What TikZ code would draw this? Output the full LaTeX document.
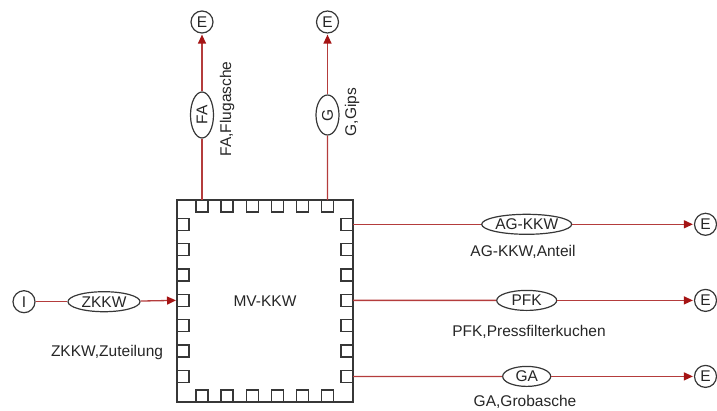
\documentclass[tikz,border=0pt]{standalone}
\usepackage{fontspec}
\setmainfont{Liberation Sans}
\usetikzlibrary{shapes.geometric,arrows.meta}
\definecolor{flow}{RGB}{180,60,60}
\definecolor{tipred}{RGB}{165,20,20}
\definecolor{frame}{RGB}{55,55,55}
\begin{document}
\begin{tikzpicture}[x=1pt, y=-1pt,
	every node/.style={font=\fontsize{15.5}{18}\selectfont, text=black!85},
	term/.style={circle, draw=frame, line width=1.2pt, minimum size=22pt, inner sep=0pt},
	stream/.style={ellipse, draw=frame, line width=1.2pt, minimum height=20pt, inner sep=0pt},
	port/.style={rectangle, draw=frame, line width=1.4pt, minimum size=12pt, inner sep=0pt, outer sep=0pt},
	flowline/.style={draw=flow, line width=1.3pt},
	flowarrow/.style={flowline, -{Triangle[length=9pt, width=8pt, color=tipred]}, shorten >=1pt}]
			\useasboundingbox (0,0) rectangle (717,410);
			
			% Prozess
			\node[draw=frame, line width=1.5pt, minimum width=176pt, minimum height=202pt, inner sep=0pt, outer sep=0pt] (mv) at (265,301) {MV-KKW};
			\foreach \i in {1,...,6} {
				\node[port, anchor=north] (t\i) at ({202+25.1*(\i-1)},200) {};
				\node[port, anchor=south] (b\i) at ({202+25.1*(\i-1)},402) {};
			}
			\foreach \i in {1,...,7} {
				\node[port, anchor=west] (l\i) at (177,{224.3+25.35*(\i-1)}) {};
				\node[port, anchor=east] (r\i) at (353,{224.3+25.35*(\i-1)}) {};
			}
			
			% Zufluss
			\node[term] (in) at (24,301.7) {I};
			\node[stream, minimum width=72pt] (zkkw) at (104,301.7) {ZKKW};
			\node (lblZKKW) at (107,352) {ZKKW,Zuteilung};
			
			\draw[flowline] (in) -- (zkkw);
			\draw[flowarrow] (zkkw) -- (l4.west);
			
			% Abfluesse oben
			\node[term] (eFA) at (202,22) {E};
			\node[stream, rotate=90, minimum width=46pt, minimum height=23pt] (fa) at (202,115) {FA};
			\node[rotate=90] (lblFA) at (227,109) {FA,Flugasche};
			\node[term] (eG) at (327.5,22) {E};
			\node[stream, rotate=90, minimum width=40pt, minimum height=23pt] (g) at (327.5,115) {G};
			\node[rotate=90] (lblG) at (352,112) {G,Gips};
			
			\draw[flowline] (t1.north) -- (fa);
			\draw[flowarrow] (fa) -- (eFA);
			\draw[flowline] (t6.north) -- (g);
			\draw[flowarrow] (g) -- (eG);
			
			% Abfluesse rechts
			\node[stream, minimum width=90pt] (agkkw) at (526.7,224.3) {AG-KKW};
			\node (lblAG) at (523,251.7) {AG-KKW,Anteil};
			\node[term] (eAG) at (705.5,224.3) {E};
			\node[stream, minimum width=60pt] (pfk) at (526.7,300.4) {PFK};
			\node (lblPFK) at (529,331.7) {PFK,Pressfilterkuchen};
			\node[term] (ePFK) at (705.5,300.4) {E};
			\node[stream, minimum width=48pt] (ga) at (526.7,376.4) {GA};
			\node (lblGA) at (525,402) {GA,Grobasche};
			\node[term] (eGA) at (705.5,376.4) {E};
			
			\draw[flowline] (r1.east) -- (agkkw);
			\draw[flowarrow] (agkkw) -- (eAG);
			\draw[flowline] (r4.east) -- (pfk);
			\draw[flowarrow] (pfk) -- (ePFK);
			\draw[flowline] (r7.east) -- (ga);
			\draw[flowarrow] (ga) -- (eGA);
		\end{tikzpicture}
\end{document}
